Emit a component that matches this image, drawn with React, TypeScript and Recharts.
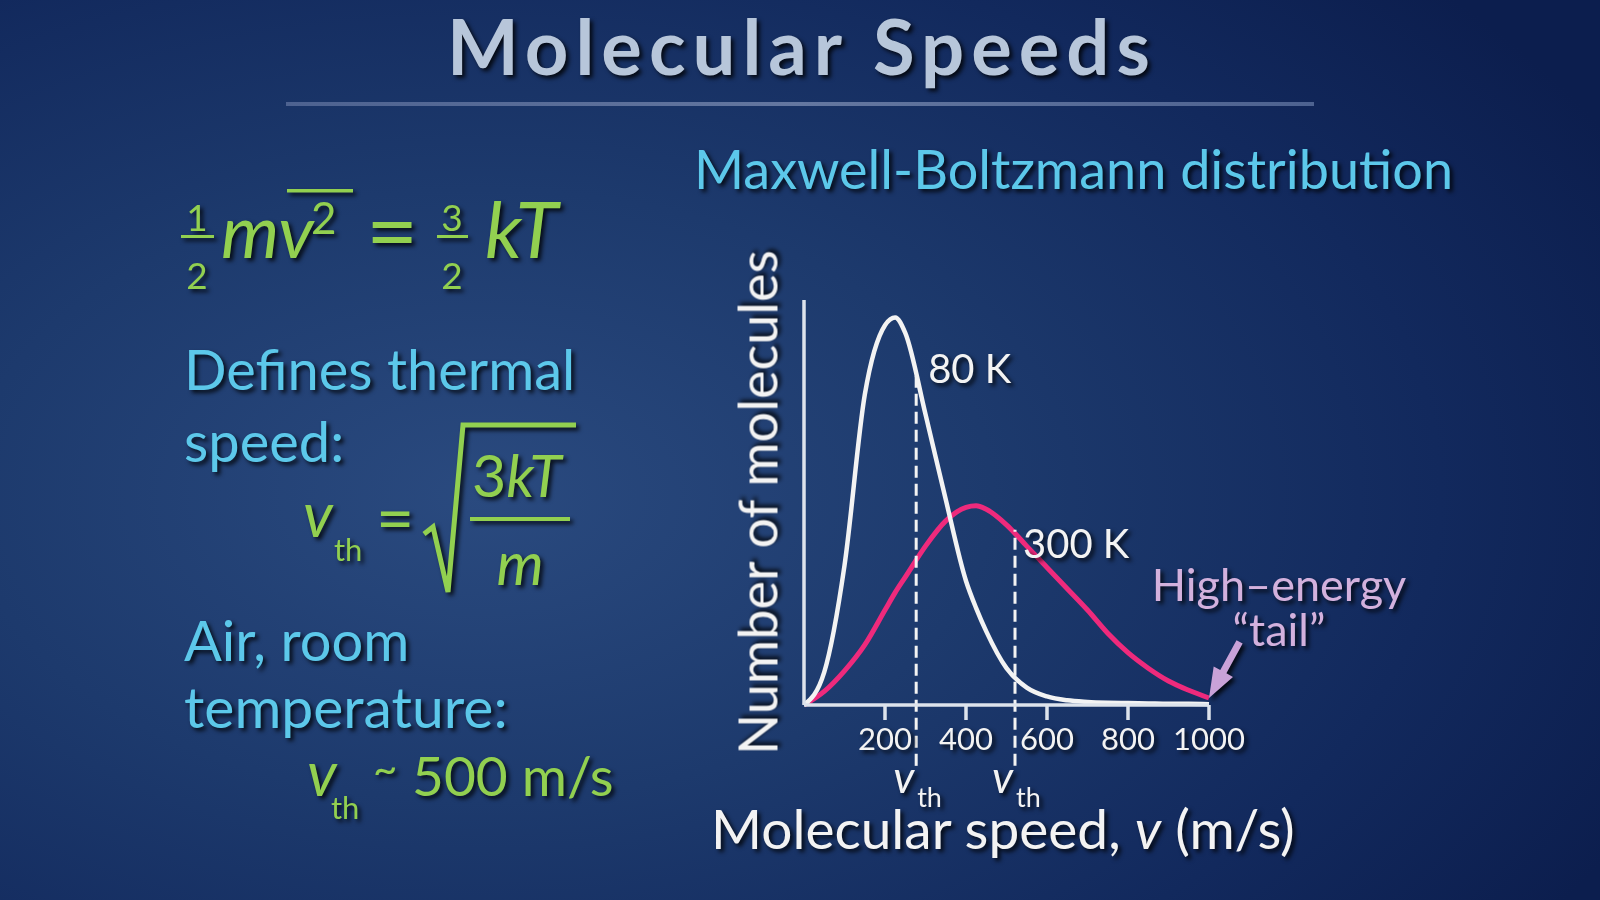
import React from 'react';
import { LineChart, Line, XAxis, YAxis, ReferenceLine, ReferenceDot } from 'recharts';

// molecular speed (m/s) and relative number of molecules
const speeds = [0, 50, 100, 150, 200, 225, 250, 300, 350, 400, 425, 450, 500, 550, 600, 650, 700, 750, 800, 850, 900, 950, 1000];
const count80K = [0, 8.5, 36, 80, 98, 100, 96, 75, 53, 32, 25, 19, 9.5, 4.5, 2.2, 1.2, 0.8, 0.6, 0.5, 0.4, 0.3, 0.3, 0.2];
const count300K = [0, 3.5, 8.8, 15.5, 24.5, 29, 33, 41, 47.5, 51, 51.4, 50.5, 46.5, 41, 35.5, 30, 24.5, 18.5, 13.5, 9.5, 6.2, 3.8, 1.8];
const speedTicks = [200, 400, 600, 800, 1000];

// thermal speeds and where their dashed markers meet each curve
const thermalSpeeds = [277, 521];
const thermalTops = [86, 45.2];
const tempLabels = ['80 K', '300 K'];
const tempLabelY = [86.7, 41.5];
const tailPoint = { speed: 1000, count: 1.8 };

const data = speeds.map((speed, i) => ({ speed, k80: count80K[i], k300: count300K[i] }));

const AXIS = '#dde3ec';
const WHITE = '#f3f3f3';
const PINK = '#ee2a7c';
const GREEN = '#92d050';
const CYAN = '#5cc8ea';
const LILAC = '#d3b1dd';
const TITLE = '#b7c6da';
const FONT = 'Lato, "Open Sans", sans-serif';
const shadow = 'drop-shadow(3px 3px 2px rgba(0,0,0,0.8))';

function YTitle({ viewBox }: any) {
  const x = viewBox.x + viewBox.width - 27;
  const y = viewBox.y + viewBox.height / 2;
  return (
    <text x={x} y={y} transform={`rotate(-90 ${x} ${y})`} textAnchor="middle" fill={WHITE}
      fontSize={54} fontFamily={FONT} style={{ filter: shadow }}>
      Number of molecules
    </text>
  );
}

function XTitle({ viewBox }: any) {
  return (
    <text x={viewBox.x - 93} y={viewBox.y + 144} fill={WHITE} fontSize={55} fontFamily={FONT} style={{ filter: shadow }}>
      Molecular speed, <tspan fontStyle="italic">v</tspan> (m/s)
    </text>
  );
}

function VthLabel({ viewBox }: any) {
  const cx = viewBox.x + viewBox.width / 2;
  const cy = viewBox.y + viewBox.height / 2;
  return (
    <g style={{ filter: shadow }} fill={WHITE} fontFamily={FONT}>
      <text x={cx - 23} y={cy + 88} fontSize={44} fontStyle="italic">v</text>
      <text x={cx + 1} y={cy + 102} fontSize={27}>th</text>
    </g>
  );
}

function TempLabel({ viewBox, text, dx }: any) {
  const cx = viewBox.x + viewBox.width / 2;
  const cy = viewBox.y + viewBox.height / 2;
  return (
    <text x={cx + dx} y={cy + 14} fill={WHITE} fontSize={40} fontFamily={FONT} style={{ filter: shadow }}>
      {text}
    </text>
  );
}

function TailArrow({ viewBox }: any) {
  const tx = viewBox.x + viewBox.width / 2;
  const ty = viewBox.y + viewBox.height / 2;
  const len = 64;
  const d = { x: 0.478, y: -0.878 };
  const n = { x: 0.878, y: 0.478 };
  const head = 30;
  const hw = 11;
  const sw = 3.5;
  const bx = tx + head * d.x;
  const by = ty + head * d.y;
  const ex = tx + len * d.x;
  const ey = ty + len * d.y;
  const pts = [
    [tx, ty],
    [bx + hw * n.x, by + hw * n.y],
    [bx + sw * n.x, by + sw * n.y],
    [ex + sw * n.x, ey + sw * n.y],
    [ex - sw * n.x, ey - sw * n.y],
    [bx - sw * n.x, by - sw * n.y],
    [bx - hw * n.x, by - hw * n.y],
  ];
  return (
    <g style={{ filter: shadow }}>
      <polygon points={pts.map((p) => p.join(',')).join(' ')} fill="#c9a2d8" />
      <text x={tx + 70} y={ty - 97} textAnchor="middle" fill={LILAC} fontSize={45} fontFamily={FONT}>High–energy</text>
      <text x={tx + 70} y={ty - 52} textAnchor="middle" fill={LILAC} fontSize={45} fontFamily={FONT}>“tail”</text>
    </g>
  );
}

function Slide() {
  return (
    <svg width={1600} height={900} style={{ position: 'absolute', left: 0, top: 0 }}>
      <defs>
        <linearGradient id="rule" x1="0" x2="1" y1="0" y2="0">
          <stop offset="0" stopColor="#4d6290" />
          <stop offset="0.5" stopColor="#6477a0" />
          <stop offset="1" stopColor="#4d6290" />
        </linearGradient>
      </defs>
      <g style={{ filter: shadow }} fontFamily={FONT}>
        <text x={802} y={75} textAnchor="middle" fill={TITLE} fontSize={76} fontWeight={700} letterSpacing={7}>Molecular Speeds</text>
        <text x={694} y={189} fill={CYAN} fontSize={54}>Maxwell-Boltzmann distribution</text>

        {/* 1/2 m v^2 = 3/2 kT */}
        <g fill={GREEN}>
          <text x={197} y={231} textAnchor="middle" fontSize={37}>1</text>
          <rect x={181} y={235} width={33} height={3} />
          <text x={197} y={289} textAnchor="middle" fontSize={37}>2</text>
          <text x={221} y={258} fontSize={74} fontStyle="italic">mv</text>
          <text x={311} y={234} fontSize={44}>2</text>
          <rect x={287} y={189} width={66} height={3.5} />
          <text x={366} y={263} fontSize={90}>=</text>
          <text x={452} y={231} textAnchor="middle" fontSize={37}>3</text>
          <rect x={437} y={235} width={31} height={3} />
          <text x={452} y={289} textAnchor="middle" fontSize={37}>2</text>
          <text x={485} y={258} fontSize={78} fontStyle="italic">kT</text>
        </g>

        <g fill={CYAN} fontSize={56}>
          <text x={184} y={390}>Defines thermal</text>
          <text x={184} y={462}>speed:</text>
          <text x={184} y={661}>Air, room</text>
          <text x={184} y={728} fontSize={57}>temperature:</text>
        </g>

        {/* v_th = sqrt(3kT/m) */}
        <g fill={GREEN}>
          <text x={303} y={537} fontSize={62} fontStyle="italic">v</text>
          <text x={334} y={561} fontSize={31}>th</text>
          <text x={376} y={542} fontSize={66}>=</text>
          <path d="M424,534 L433,527 L448,592 L463,425 L576,425" fill="none" stroke={GREEN} strokeWidth={5} />
          <text x={472} y={497} fontSize={59}>3<tspan fontStyle="italic">kT</tspan></text>
          <rect x={470} y={517} width={100} height={4} />
          <text x={520} y={585} textAnchor="middle" fontSize={60} fontStyle="italic">m</text>
        </g>

        <g fill={GREEN}>
          <text x={307} y={796} fontSize={62} fontStyle="italic">v</text>
          <text x={331} y={819} fontSize={31}>th</text>
          <text x={373} y={784} fontSize={42}>~</text>
          <text x={412} y={796} fontSize={55}>500 m/s</text>
        </g>
      </g>
      <rect x={286} y={102} width={1028} height={4} fill="url(#rule)" />
    </svg>
  );
}

export default function App() {
  return (
    <div
      style={{
        position: 'fixed',
        left: 0,
        top: 0,
        width: 1600,
        height: 900,
        overflow: 'hidden',
        background:
          'radial-gradient(ellipse 80% 85% at 30% 55%, #2a4a7f 0%, #1d3a6d 40%, #12295d 75%, #0c1e4e 100%)',
      }}
    >
      <Slide />
      <div style={{ position: 'absolute', left: 0, top: 0 }}>
        <LineChart width={1600} height={900} data={data} margin={{ top: 300, right: 391, bottom: 135, left: 744 }}>
          <XAxis
            dataKey="speed"
            type="number"
            domain={[0, 1000]}
            ticks={speedTicks}
            height={60}
            axisLine={{ stroke: AXIS, strokeWidth: 3.5 }}
            tickLine={{ stroke: AXIS, strokeWidth: 3.5 }}
            tickSize={15}
            tickMargin={8}
            tick={{ fill: WHITE, fontSize: 31, fontFamily: FONT, style: { filter: shadow } }}
            label={<XTitle />}
          />
          <YAxis
            type="number"
            domain={[0, 104.5]}
            width={60}
            tick={false}
            tickLine={false}
            axisLine={{ stroke: AXIS, strokeWidth: 3.5 }}
            label={<YTitle />}
          />
          <Line type="monotone" dataKey="k300" stroke={PINK} strokeWidth={5} dot={false} isAnimationActive={false} />
          <Line type="monotone" dataKey="k80" stroke={WHITE} strokeWidth={4.5} dot={false} isAnimationActive={false} />
          {thermalSpeeds.map((v, i) => (
            <ReferenceLine
              key={`vth-${v}`}
              segment={[{ x: v, y: -15.7 }, { x: v, y: thermalTops[i] }]}
              stroke={WHITE}
              strokeWidth={3}
              strokeDasharray="12 6"
              ifOverflow="visible"
            />
          ))}
          {thermalSpeeds.map((v) => (
            <ReferenceDot key={`vl-${v}`} x={v} y={0} r={0} fill="none" stroke="none" label={<VthLabel />} />
          ))}
          {thermalSpeeds.map((v, i) => (
            <ReferenceDot
              key={`tl-${v}`}
              x={v}
              y={tempLabelY[i]}
              r={0}
              fill="none"
              stroke="none"
              label={<TempLabel text={tempLabels[i]} dx={i === 0 ? 12 : 8} />}
            />
          ))}
          <ReferenceDot x={tailPoint.speed} y={tailPoint.count} r={0} fill="none" stroke="none" label={<TailArrow />} />
        </LineChart>
      </div>
    </div>
  );
}
